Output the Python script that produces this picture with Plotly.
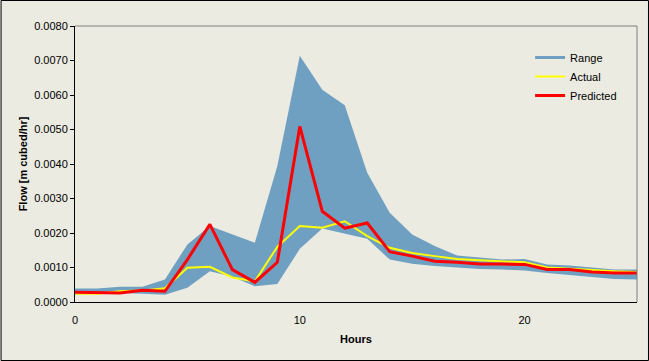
import plotly.graph_objects as go

hours = list(range(26))
range_low = [0.00021, 0.00024, 0.00026, 0.00024, 0.00021, 0.00041, 0.00089, 0.00073, 0.00046, 0.00052,
             0.00154, 0.00213, 0.00197, 0.00183, 0.00123, 0.00111, 0.00104, 0.00099, 0.00096, 0.00094,
             0.00091, 0.00084, 0.00078, 0.00072, 0.00067, 0.00065]
range_high = [0.00039, 0.00039, 0.00044, 0.00044, 0.00065, 0.00167, 0.00220, 0.00196, 0.00172, 0.00394,
              0.00714, 0.00615, 0.00570, 0.00375, 0.00259, 0.00196, 0.00162, 0.00135, 0.00128, 0.00123,
              0.00125, 0.00109, 0.00106, 0.00099, 0.00094, 0.00094]
actual = [0.00024, 0.00024, 0.00031, 0.00033, 0.00040, 0.00099, 0.00102, 0.00071, 0.00060, 0.00160,
          0.00220, 0.00215, 0.00234, 0.00191, 0.00157, 0.00142, 0.00133, 0.00125, 0.00121, 0.00118,
          0.00115, 0.00100, 0.00096, 0.00091, 0.00089, 0.00087]
predicted = [0.00028, 0.00026, 0.00026, 0.00034, 0.00031, 0.00123, 0.00225, 0.00094, 0.00057, 0.00115,
             0.00509, 0.00263, 0.00214, 0.00229, 0.00146, 0.00133, 0.00118, 0.00115, 0.00110, 0.00110,
             0.00109, 0.00094, 0.00094, 0.00087, 0.00084, 0.00084]
y_ticks = [0.0, 0.001, 0.002, 0.003, 0.004, 0.005, 0.006, 0.007, 0.008]
x_ticks = [0, 10, 20]

BG = "#EBEBE1"
BLUE = "#6FA0C2"
FONT = "Liberation Sans, Arial, sans-serif"

W, H = 649, 361
ml, mr, mt, mb = 74.5, 12, 26, 59
pw, ph = W - ml - mr, H - mt - mb

fig = go.Figure()
fig.add_trace(go.Scatter(x=[None], y=[None], mode="lines", name="Range",
                         line=dict(color=BLUE, width=3)))
fig.add_trace(go.Scatter(x=hours, y=range_low, mode="lines", line=dict(width=0, color=BLUE),
                         showlegend=False, hoverinfo="skip"))
fig.add_trace(go.Scatter(x=hours, y=range_high, mode="lines", line=dict(width=0, color=BLUE),
                         fill="tonexty", fillcolor=BLUE, showlegend=False, hoverinfo="skip"))
fig.add_trace(go.Scatter(x=hours, y=actual, mode="lines", name="Actual",
                         line=dict(color="#FFFF00", width=2)))
fig.add_trace(go.Scatter(x=hours, y=predicted, mode="lines", name="Predicted",
                         line=dict(color="#FF0000", width=3)))

fig.update_layout(
    width=W, height=H,
    margin=dict(l=ml, r=mr, t=mt, b=mb, autoexpand=False),
    paper_bgcolor=BG, plot_bgcolor=BG,
    font=dict(family=FONT, size=11, color="black"),
    legend=dict(x=(530 - ml) / pw, y=1 - (43 - mt) / ph, xanchor="left", yanchor="top",
                bgcolor="rgba(0,0,0,0)", font=dict(size=11), tracegroupgap=0,
                traceorder="normal", itemwidth=30),
    xaxis=dict(range=[0, 25], tickvals=x_ticks, ticktext=[str(v) for v in x_ticks],
               showgrid=False, zeroline=False, showline=True, linecolor="black", linewidth=1,
               ticks="", ticklabelstandoff=8, automargin=False,
               title=dict(text="<b>Hours</b>", font=dict(size=11), standoff=10)),
    yaxis=dict(range=[0, 0.008], tickvals=y_ticks, tickformat=".4f",
               showgrid=False, zeroline=False, showline=True, linecolor="black", linewidth=1,
               ticks="outside", ticklen=4, tickcolor="black", automargin=False,
               title=dict(text="<b>Flow [m cubed/hr]</b>", font=dict(size=11), standoff=4)),
    shapes=[
        dict(type="line", xref="paper", yref="paper", x0=0, x1=1, y0=1, y1=1,
             line=dict(color="#808080", width=1)),
        dict(type="line", xref="paper", yref="paper", x0=1, x1=1, y0=0, y1=1,
             line=dict(color="#808080", width=1)),
        dict(type="rect", xref="paper", yref="paper",
             x0=-(ml - 0.5) / pw, x1=1 + (mr - 0.5) / pw,
             y0=-(mb - 0.5) / ph, y1=1 + (mt - 0.5) / ph,
             line=dict(color="black", width=1)),
    ],
)

fig.write_html("out.html", config={"displayModeBar": False},
               post_script="document.body.style.margin='0px';document.body.style.padding='0px';")
